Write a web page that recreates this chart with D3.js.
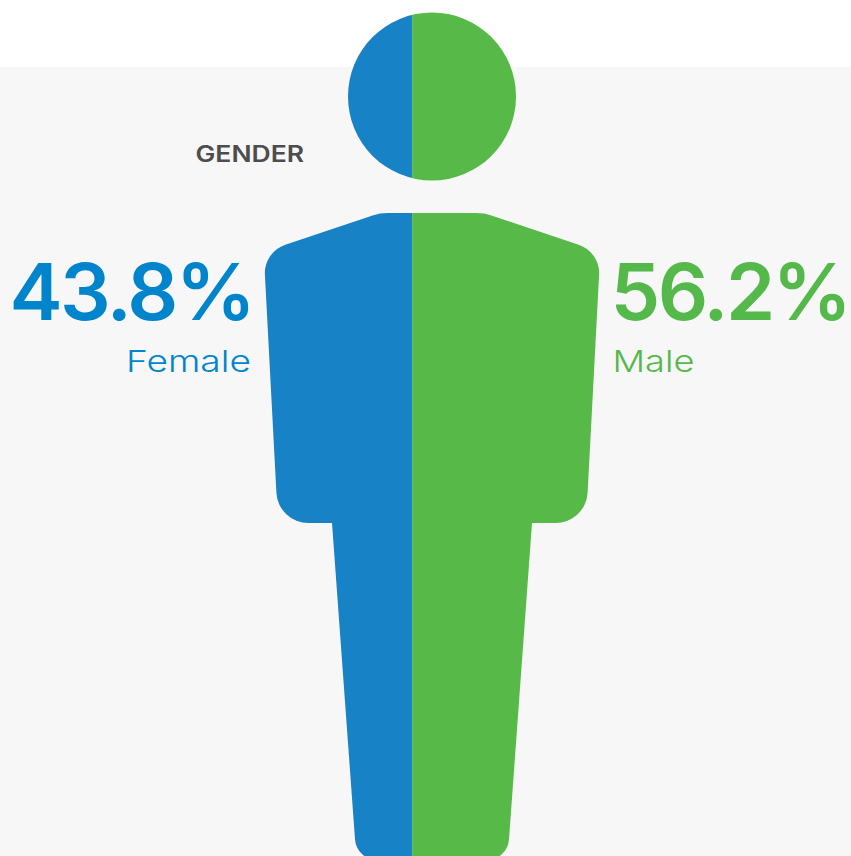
<!DOCTYPE html>
<html>
<head>
<meta charset="utf-8">
<script src="https://cdnjs.cloudflare.com/ajax/libs/d3/7.8.5/d3.min.js"></script>
<style>
html,body{margin:0;padding:0;background:#fff;overflow:hidden}
svg{display:block}
text{font-family:Inter,"Noto Sans",sans-serif}
</style>
</head>
<body>
<div id="chart"></div>
<script>
const title = "GENDER";
const categories = ["Female", "Male"];
const shares = [43.8, 56.2];
const fills = ["#1782c5", "#57b947"];
const textFills = ["#0084cc", "#55b84a"];

const W = 851, H = 856;
const svg = d3.select("#chart").append("svg").attr("width", W).attr("height", H);

svg.append("rect").attr("x", 0).attr("y", 67).attr("width", W).attr("height", H - 67).attr("fill", "#f7f7f7");

// Share scale spans the figure's width, so the split falls at the data value
const x = d3.scaleLinear().domain([0, 100]).range([265.7, 600]);
const cumulative = d3.cumsum(shares);
const segments = categories.map((c, i) => ({
  name: c, value: shares[i], x0: i ? cumulative[i - 1] : 0, x1: cumulative[i], fill: fills[i], text: textFills[i]
}));

// Silhouette: corners of the right half [offset from axis, y, corner radius]
const cx = 432;
const corners = [
  [52, 213, 48],
  [168.3, 252, 30],
  [154, 523, 32],
  [100, 523, 0],
  [75.5, 860, 22]
];
const body = d3.path();
const bodyTop = 213, bodyBottom = 860;
body.moveTo(cx, bodyTop);
[...corners, [0, bodyBottom, 0]].forEach((c, i, a) => {
  if (i === a.length - 1) { body.lineTo(cx + c[0], c[1]); return; }
  body.arcTo(cx + c[0], c[1], cx + a[i + 1][0], a[i + 1][1], c[2]);
});
const rev = corners.slice().reverse();
[...rev, [0, bodyTop, 0]].forEach((c, i, a) => {
  if (i === a.length - 1) { body.lineTo(cx - c[0], c[1]); return; }
  body.arcTo(cx - c[0], c[1], cx - a[i + 1][0], a[i + 1][1], c[2]);
});
body.closePath();

const clip = svg.append("defs").append("clipPath").attr("id", "person");
clip.append("circle").attr("cx", cx).attr("cy", 96.5).attr("r", 84);
clip.append("path").attr("d", body.toString());

svg.append("g").attr("clip-path", "url(#person)")
  .selectAll("rect").data(segments).join("rect")
  .attr("x", d => d.x0 === 0 ? x(d.x0) - 2 : x(d.x0))
  .attr("y", 0)
  .attr("width", d => x(d.x1) - x(d.x0) + (d.x0 === 0 ? 2 : 0))
  .attr("height", H + 4)
  .attr("fill", d => d.fill);

// Stretch text horizontally to a target width
function fit(sel, xs, widths, y) {
  sel.each(function (d, i) {
    const t = d3.select(this);
    const w = this.getComputedTextLength();
    t.attr("transform", `translate(${xs[i]},${y}) scale(${widths[i] / w},1)`);
  });
}

const titleSel = svg.selectAll("text.title").data([title]).join("text").attr("class", "title")
  .attr("font-size", 22.5).attr("font-weight", 600).attr("fill", "#4d4d4d")
  .text(d => d);
fit(titleSel, [195.5], [108.5], 162);

const nums = svg.selectAll("text.num").data(segments).join("text").attr("class", "num")
  .attr("font-size", 78).attr("font-weight", 600).attr("fill", d => d.text)
  .attr("letter-spacing", -2.5)
  .text(d => d.value.toFixed(1) + "%");
fit(nums, [9.5, 610.5], [244, 239], 320);

const labs = svg.selectAll("text.lab").data(segments).join("text").attr("class", "lab")
  .attr("font-size", 30).attr("font-weight", 300).attr("fill", d => d.text)
  .text(d => d.name);
fit(labs, [126, 612.5], [125, 82], 372);
</script>
</body>
</html>
